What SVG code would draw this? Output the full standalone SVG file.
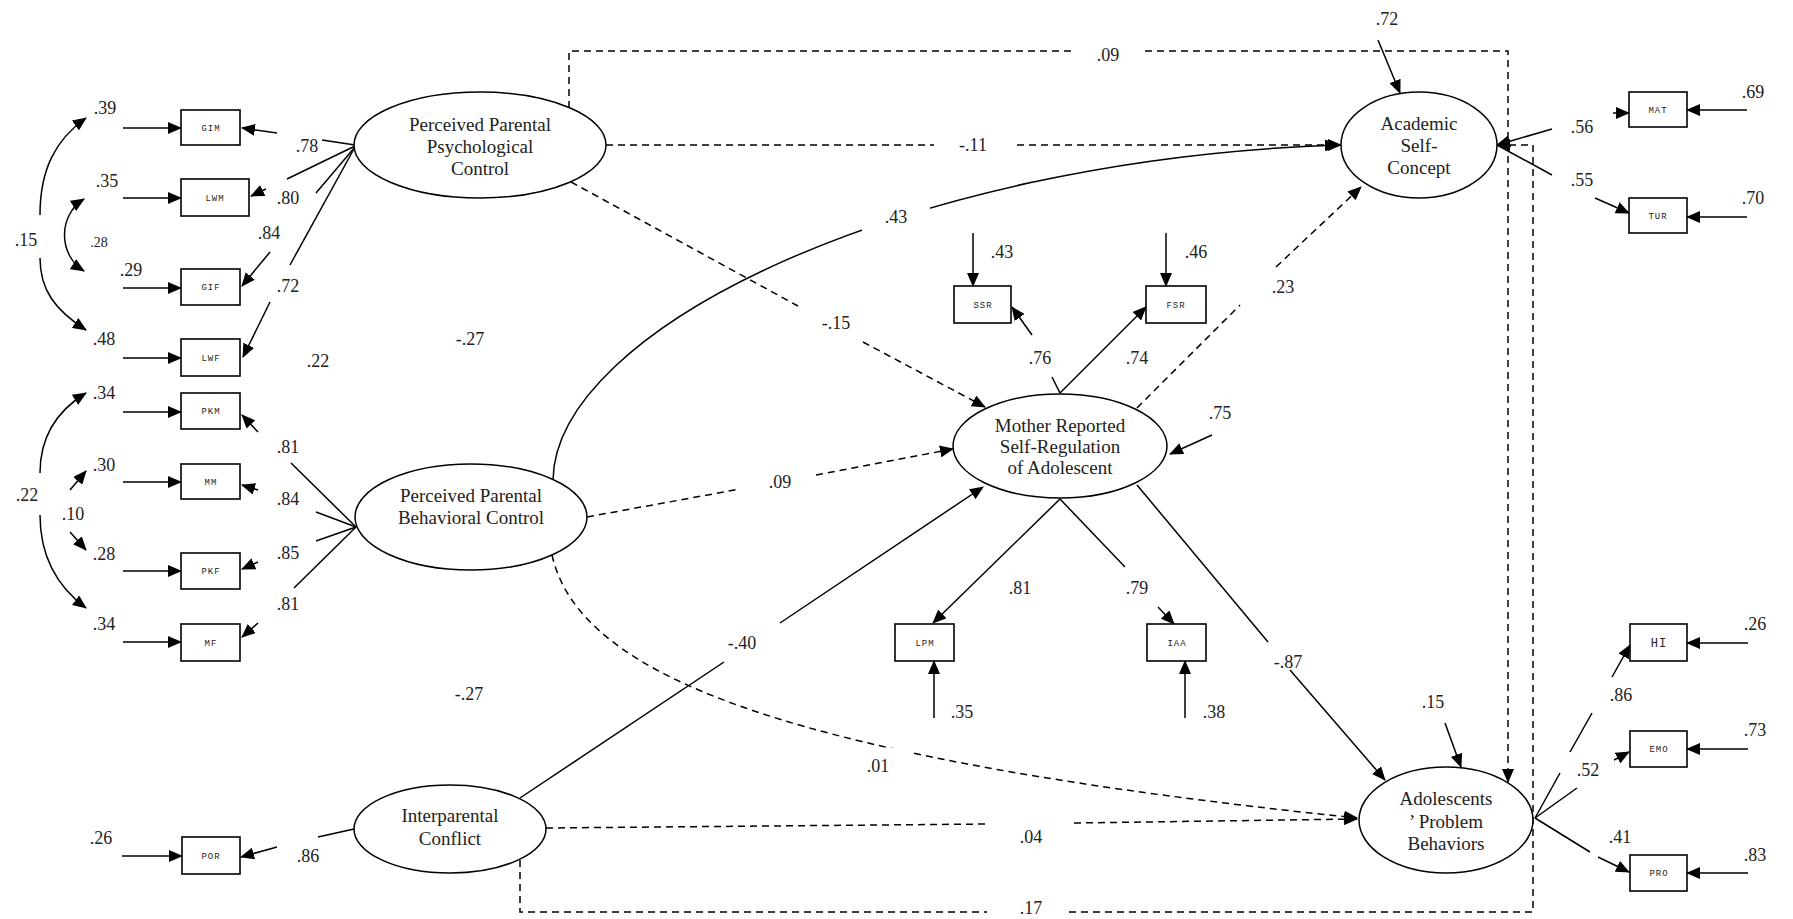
<svg xmlns="http://www.w3.org/2000/svg" width="1793" height="919" viewBox="0 0 1793 919">
<style>
.n { fill: #fff; stroke: #000; stroke-width: 1.5; }
.bx { fill: #fff; stroke: #000; stroke-width: 1.6; }
.t { font-family: "Liberation Serif", "Times New Roman", serif; font-size: 19px; fill: #222; text-anchor: middle; }
.bt { font-family: "Liberation Mono", "Courier New", monospace; font-size: 9px; fill: #222; text-anchor: middle; letter-spacing: 1px; }
.l { font-family: "Liberation Serif", "Times New Roman", serif; font-size: 18px; fill: #222; text-anchor: middle; }
.sm { font-size: 14px; }
.s { fill: none; stroke: #000; stroke-width: 1.5; }
.d { fill: none; stroke: #000; stroke-width: 1.5; stroke-dasharray: 7 5; }
.a { marker-end: url(#ah); }
.a2 { marker-start: url(#ah); marker-end: url(#ah); }
</style>
<defs>
<marker id="ah" markerUnits="userSpaceOnUse" markerWidth="14" markerHeight="12" viewBox="0 0 14 12" refX="13" refY="6" orient="auto-start-reverse"><path d="M0,0 L14,6 L0,12 z" fill="#000"/></marker>
</defs>
<rect width="1793" height="919" fill="#fff"/>
<g id="connectors">
<!-- error arrows left -->
<path class="s a" d="M123,128 H181"/>
<path class="s a" d="M123,198 H181"/>
<path class="s a" d="M123,288 H181"/>
<path class="s a" d="M123,358 H181"/>
<path class="s a" d="M123,412 H181"/>
<path class="s a" d="M123,482 H181"/>
<path class="s a" d="M123,571 H181"/>
<path class="s a" d="M123,642 H181"/>
<path class="s a" d="M122,856 H182"/>
<!-- correlations -->
<path class="s a" d="M40,215 C40,170 55,140 86,118"/>
<path class="s a" d="M40,258 C40,290 55,310 86,330"/>
<path class="s a2" d="M84,199 C58,215 58,255 84,271"/>
<path class="s a" d="M40,473 C40,440 55,412 86,393"/>
<path class="s a" d="M40,515 C40,555 55,585 86,608"/>
<path class="s a" d="M70,490 L86,471"/>
<path class="s a" d="M70,532 L86,550"/>
<!-- psych loadings -->
<path class="s" d="M355,145 L322,140"/><path class="s a" d="M277,133 L242,128"/>
<path class="s" d="M355,146 L287,179"/><path class="s a" d="M266,189 L251,196"/>
<path class="s" d="M355,147 L316,193"/><path class="s a" d="M270,252 L242,286"/>
<path class="s" d="M355,147 L290,265"/><path class="s a" d="M270,302 L243,357"/>
<!-- behav loadings -->
<path class="s" d="M356,527 L291,463"/><path class="s a" d="M258,432 L242,415"/>
<path class="s" d="M356,527 L316,512"/><path class="s a" d="M258,490 L242,485"/>
<path class="s" d="M356,527 L316,541"/><path class="s a" d="M258,562 L242,569"/>
<path class="s" d="M356,527 L294,588"/><path class="s a" d="M258,623 L242,637"/>
<!-- POR -->
<path class="s" d="M354,829 L318,837"/><path class="s a" d="M277,847 L241,857"/>
<!-- structural paths -->
<path class="d" d="M569,108 V51 H1071"/><path class="d a" d="M1145,51 H1508 V782"/>
<path class="d" d="M606,145 H934"/><path class="d a" d="M1017,145 H1341"/>
<path class="d" d="M571,182 L798,306"/><path class="d a" d="M863,342 L985,407"/>
<path class="s a" d="M553,480 C555,330 900,160 1338,145"/>
<rect x="862" y="205" width="68" height="26" fill="#fff"/>
<path class="d" d="M587,517 L740,489"/><path class="d a" d="M816,475 L953,449"/>
<path class="d a" d="M552,555 C580,680 800,760 1357,818"/>
<rect x="845" y="748" width="68" height="26" fill="#fff"/>
<path class="s" d="M520,798 L724,662"/><path class="s a" d="M780,623 L983,487"/>
<path class="d" d="M546,828 L990,824"/><path class="d a" d="M1074,823 L1357,819"/>
<path class="d" d="M520,860 V912 H987"/><path class="d a" d="M1069,912 H1533 V145 H1497"/>
<path class="d" d="M1137,408 L1240,305"/><path class="d a" d="M1276,267 L1361,187"/>
<path class="s" d="M1137,485 L1268,642"/><path class="s a" d="M1290,670 L1385,780"/>
<path class="s a" d="M1212,435 L1170,454"/>
<path class="s a" d="M1378,40 L1400,93"/>
<path class="s a" d="M1445,723 L1461,767"/>
<!-- mother loadings -->
<path class="s" d="M1060,393 L1052,377"/><path class="s a" d="M1032,335 L1012,307"/>
<path class="s a" d="M1060,393 L1146,307"/>
<path class="s a" d="M1060,499 L933,623"/>
<path class="s" d="M1060,499 L1125,567"/><path class="s a" d="M1158,607 L1174,624"/>
<path class="s a" d="M973,233 V286"/>
<path class="s a" d="M1166,233 V286"/>
<path class="s a" d="M934,718 V661"/>
<path class="s a" d="M1185,718 V661"/>
<!-- academic loadings -->
<path class="s a" d="M1552,129 L1497,145"/><path class="s a" d="M1613,113 L1629,113"/>
<path class="s" d="M1497,145 L1552,175"/><path class="s a" d="M1595,198 L1629,213"/>
<path class="s a" d="M1747,110 H1687"/>
<path class="s a" d="M1747,217 H1687"/>
<!-- problem loadings -->
<path class="s" d="M1535,818 L1560,773"/><path class="s" d="M1570,752 L1592,713"/><path class="s a" d="M1612,677 L1630,645"/>
<path class="s" d="M1535,818 L1577,788"/><path class="s a" d="M1614,760 L1629,752"/>
<path class="s" d="M1535,818 L1590,852"/><path class="s a" d="M1598,857 L1629,872"/>
<path class="s a" d="M1748,643 H1687"/>
<path class="s a" d="M1748,749 H1687"/>
<path class="s a" d="M1748,873 H1687"/>
</g>
<g id="labels">
<text class="l" x="105" y="114">.39</text>
<text class="l" x="107" y="187">.35</text>
<text class="l" x="26" y="246">.15</text>
<text class="l sm" x="99" y="247">.28</text>
<text class="l" x="131" y="276">.29</text>
<text class="l" x="104" y="345">.48</text>
<text class="l" x="307" y="152">.78</text>
<text class="l" x="288" y="204">.80</text>
<text class="l" x="269" y="239">.84</text>
<text class="l" x="288" y="292">.72</text>
<text class="l" x="318" y="367">.22</text>
<text class="l" x="104" y="399">.34</text>
<text class="l" x="104" y="471">.30</text>
<text class="l" x="27" y="501">.22</text>
<text class="l" x="73" y="520">.10</text>
<text class="l" x="104" y="560">.28</text>
<text class="l" x="104" y="630">.34</text>
<text class="l" x="288" y="453">.81</text>
<text class="l" x="288" y="505">.84</text>
<text class="l" x="288" y="559">.85</text>
<text class="l" x="288" y="610">.81</text>
<text class="l" x="101" y="844">.26</text>
<text class="l" x="308" y="862">.86</text>
<text class="l" x="470" y="345">-.27</text>
<text class="l" x="469" y="700">-.27</text>
<text class="l" x="1108" y="61">.09</text>
<text class="l" x="973" y="151">-.11</text>
<text class="l" x="1387" y="25">.72</text>
<text class="l" x="896" y="223">.43</text>
<text class="l" x="836" y="329">-.15</text>
<text class="l" x="780" y="488">.09</text>
<text class="l" x="1002" y="258">.43</text>
<text class="l" x="1196" y="258">.46</text>
<text class="l" x="1040" y="364">.76</text>
<text class="l" x="1137" y="364">.74</text>
<text class="l" x="1283" y="293">.23</text>
<text class="l" x="1220" y="419">.75</text>
<text class="l" x="1020" y="594">.81</text>
<text class="l" x="1137" y="594">.79</text>
<text class="l" x="962" y="718">.35</text>
<text class="l" x="1214" y="718">.38</text>
<text class="l" x="742" y="649">-.40</text>
<text class="l" x="878" y="772">.01</text>
<text class="l" x="1031" y="843">.04</text>
<text class="l" x="1031" y="914">.17</text>
<text class="l" x="1288" y="668">-.87</text>
<text class="l" x="1433" y="708">.15</text>
<text class="l" x="1582" y="133">.56</text>
<text class="l" x="1582" y="186">.55</text>
<text class="l" x="1753" y="98">.69</text>
<text class="l" x="1753" y="204">.70</text>
<text class="l" x="1621" y="701">.86</text>
<text class="l" x="1588" y="776">.52</text>
<text class="l" x="1620" y="843">.41</text>
<text class="l" x="1755" y="630">.26</text>
<text class="l" x="1755" y="736">.73</text>
<text class="l" x="1755" y="861">.83</text>
</g>
<g id="psych"><ellipse class="n" cx="480" cy="145" rx="126" ry="53"/><text class="t" x="480" y="131">Perceived Parental</text><text class="t" x="480" y="153">Psychological</text><text class="t" x="480" y="175">Control</text></g>
<g id="behav"><ellipse class="n" cx="471" cy="517" rx="116" ry="53"/><text class="t" x="471" y="502">Perceived Parental</text><text class="t" x="471" y="524">Behavioral Control</text></g>
<g id="interp"><ellipse class="n" cx="450" cy="829" rx="96" ry="44"/><text class="t" x="450" y="822">Interparental</text><text class="t" x="450" y="845">Conflict</text></g>
<g id="mother"><ellipse class="n" cx="1060" cy="446" rx="107" ry="52"/><text class="t" x="1060" y="432">Mother Reported</text><text class="t" x="1060" y="453">Self-Regulation</text><text class="t" x="1060" y="474">of Adolescent</text></g>
<g id="academic"><ellipse class="n" cx="1419" cy="145" rx="78" ry="53"/><text class="t" x="1419" y="130">Academic</text><text class="t" x="1419" y="152">Self-</text><text class="t" x="1419" y="174">Concept</text></g>
<g id="problem"><ellipse class="n" cx="1446" cy="820" rx="87" ry="53"/><text class="t" x="1446" y="805">Adolescents</text><text class="t" x="1446" y="828">’ Problem</text><text class="t" x="1446" y="850">Behaviors</text></g>
<g id="GIM"><rect class="bx" x="181" y="110" width="59" height="35"/><text class="bt" x="211" y="131">GIM</text></g>
<g id="LWM"><rect class="bx" x="181" y="179" width="68" height="37"/><text class="bt" x="215" y="201">LWM</text></g>
<g id="GIF"><rect class="bx" x="181" y="269" width="59" height="36"/><text class="bt" x="211" y="290">GIF</text></g>
<g id="LWF"><rect class="bx" x="181" y="339" width="59" height="37"/><text class="bt" x="211" y="361">LWF</text></g>
<g id="PKM"><rect class="bx" x="181" y="393" width="59" height="36"/><text class="bt" x="211" y="414">PKM</text></g>
<g id="MM"><rect class="bx" x="181" y="464" width="59" height="35"/><text class="bt" x="211" y="485">MM</text></g>
<g id="PKF"><rect class="bx" x="181" y="553" width="59" height="36"/><text class="bt" x="211" y="574">PKF</text></g>
<g id="MF"><rect class="bx" x="181" y="624" width="59" height="37"/><text class="bt" x="211" y="646">MF</text></g>
<g id="POR"><rect class="bx" x="182" y="837" width="58" height="37"/><text class="bt" x="211" y="859">POR</text></g>
<g id="SSR"><rect class="bx" x="954" y="286" width="57" height="37"/><text class="bt" x="983" y="308">SSR</text></g>
<g id="FSR"><rect class="bx" x="1146" y="286" width="60" height="37"/><text class="bt" x="1176" y="308">FSR</text></g>
<g id="LPM"><rect class="bx" x="895" y="624" width="59" height="37"/><text class="bt" x="925" y="646">LPM</text></g>
<g id="IAA"><rect class="bx" x="1147" y="624" width="59" height="37"/><text class="bt" x="1177" y="646">IAA</text></g>
<g id="MAT"><rect class="bx" x="1629" y="92" width="58" height="35"/><text class="bt" x="1658" y="113">MAT</text></g>
<g id="TUR"><rect class="bx" x="1629" y="198" width="58" height="35"/><text class="bt" x="1658" y="219">TUR</text></g>
<g id="HI"><rect class="bx" x="1630" y="624" width="57" height="37"/><text class="bt" x="1659" y="647" style="font-size:12px">HI</text></g>
<g id="EMO"><rect class="bx" x="1630" y="731" width="57" height="36"/><text class="bt" x="1659" y="752">EMO</text></g>
<g id="PRO"><rect class="bx" x="1630" y="855" width="57" height="36"/><text class="bt" x="1659" y="876">PRO</text></g>
</svg>
